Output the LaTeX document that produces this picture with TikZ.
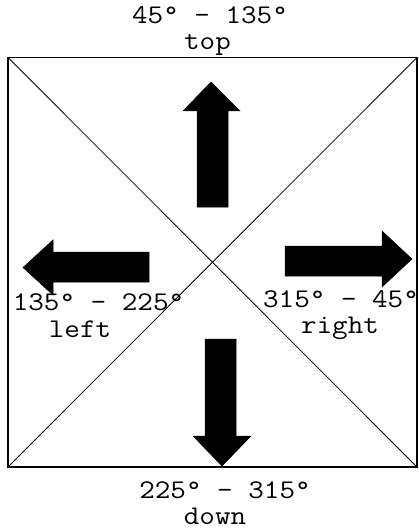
\documentclass[tikz,border=0pt]{standalone}
\usepackage{fontspec}
\newfontfamily\cour[FakeStretch=1.12]{Latin Modern Mono}
\begin{document}
\begin{tikzpicture}[x=1pt,y=-1pt,
  lbl/.style={font=\cour\fontsize{27}{27}\selectfont, inner sep=0pt, anchor=base},
  arr/.style={fill=black, draw=black, line width=0.5pt}]
\useasboundingbox (0,0) rectangle (419,529);
\fill[white] (0,0) rectangle (419,529);
\coordinate (tl) at (8,57.5);
\coordinate (tr) at (417,57.5);
\coordinate (bl) at (8,467);
\coordinate (br) at (417,467);
\draw[line width=1.6pt] (tl) -- (tr) -- (br) -- (bl) -- cycle;
\draw[line width=0.8pt] (tl) -- (br);
\draw[line width=0.8pt] (tr) -- (bl);
% up arrow
\fill[arr] (197,207) -- (197,111) -- (183,111) -- (211,82) -- (240,111) -- (228,111) -- (228,207) -- cycle;
% left arrow
\fill[arr] (149,252) -- (53,252) -- (53,240) -- (23,267.5) -- (53,295) -- (53,282) -- (149,282) -- cycle;
% right arrow
\fill[arr] (285,246) -- (382,246) -- (382,231) -- (412,259) -- (382,287) -- (382,276) -- (285,276) -- cycle;
% down arrow
\fill[arr] (205,339) -- (205,436) -- (193,436) -- (222,466) -- (251,436) -- (236,436) -- (236,339) -- cycle;
% labels
\node[lbl] (t1) at (210,23.5) {45° – 135°};
\node[lbl] (t2) at (207.5,50) {top};
\node[lbl] (l1) at (98.5,310) {135° – 225°};
\node[lbl] (l2) at (80,337) {left};
\node[lbl] (r1) at (341,307) {315° – 45°};
\node[lbl] (r2) at (340,333) {right};
\node[lbl] (d1) at (225,498) {225° – 315°};
\node[lbl] (d2) at (215,524) {down};
\end{tikzpicture}
\end{document}
